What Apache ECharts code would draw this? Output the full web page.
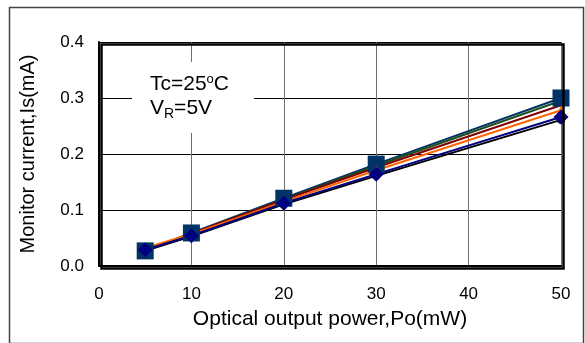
<!DOCTYPE html>
<html>
<head>
<meta charset="utf-8">
<script src="https://cdn.jsdelivr.net/npm/echarts@6/dist/echarts.min.js"></script>
<style>
  html, body { margin: 0; padding: 0; background: #fff; }
  #main { width: 585px; height: 343px; }
</style>
</head>
<body>
<div id="main"></div>
<script>
// optical output power (mW)
const powerPo = [5, 10, 20, 30, 50]
const xTicks = [0, 10, 20, 30, 40, 50]
const yTicks = [0.0, 0.1, 0.2, 0.3, 0.4]

// monitor current Is (mA) for each sample
const isSquare = [0.027, 0.059, 0.121, 0.182, 0.300]
const isGreen = [0.028, 0.058, 0.119, 0.179, 0.295]
const isRed = [0.028, 0.058, 0.118, 0.176, 0.287]
const isOrange = [0.032, 0.057, 0.115, 0.171, 0.278]
const isBlack = [0.027, 0.053, 0.110, 0.161, 0.261]
const isDiamond = [0.029, 0.054, 0.112, 0.164, 0.266]

const chart = echarts.init(document.getElementById('main'))
const font = 'Liberation Sans, Arial, sans-serif'

function pts(vals) {
  return powerPo.map((p, i) => [p, vals[i]])
}

function line(name, vals, color, symbol, size) {
  return {
    name: name,
    type: 'line',
    data: pts(vals),
    symbol: symbol,
    symbolSize: size,
    showSymbol: symbol !== 'none',
    lineStyle: { color: color, width: 2 },
    itemStyle: { color: color, opacity: 1 },
    animation: false
  }
}

const option = {
  backgroundColor: '#fff',
  grid: { left: 99, right: 24, top: 42, bottom: 77 },
  xAxis: {
    type: 'value',
    min: 0,
    max: 50,
    interval: 10,
    name: 'Optical output power,Po(mW)',
    nameLocation: 'middle',
    nameGap: 43,
    nameTextStyle: { color: '#000', fontSize: 21, fontFamily: font },
    axisLine: { show: true, onZero: false, lineStyle: { color: '#000', width: 2 } },
    axisTick: { show: false },
    axisLabel: { color: '#000', fontSize: 17, fontFamily: font, margin: 20 },
    splitLine: { show: true, lineStyle: { color: '#707070', width: 1 } }
  },
  yAxis: {
    type: 'value',
    min: 0,
    max: 0.4,
    interval: 0.1,
    name: 'Monitor current,Is(mA)',
    nameLocation: 'middle',
    nameGap: 61,
    nameTextStyle: { color: '#000', fontSize: 20, fontFamily: font },
    axisLine: { show: true, lineStyle: { color: '#000', width: 2 } },
    axisTick: { show: false },
    axisLabel: {
      color: '#000', fontSize: 17, fontFamily: font, margin: 15,
      formatter: v => v.toFixed(1)
    },
    splitLine: { show: true, lineStyle: { color: '#000', width: 1 } }
  },
  graphic: [
    {
      type: 'rect',
      left: 7, top: 5,
      shape: { width: 574, height: 336 },
      style: { fill: 'none', stroke: '#444', lineWidth: 1.5 },
      z: 0
    },
    {
      // top and right frame of plot area
      type: 'rect',
      left: 99, top: 42,
      shape: { width: 462, height: 224 },
      style: { fill: 'none', stroke: '#000', lineWidth: 2.5 },
      z: 5
    },
    {
      type: 'rect',
      left: 132, top: 62,
      shape: { width: 122, height: 71 },
      style: { fill: '#fff' },
      z: 6
    },
    {
      type: 'text',
      left: 150, top: 73,
      style: {
        text: '{n|Tc=25}{s|o}{n|C}',
        rich: {
          n: { fontSize: 21, fontFamily: font, fill: '#000' },
          s: { fontSize: 13, fontFamily: font, fill: '#000', verticalAlign: 'top', padding: [0, 0, 9, 0] }
        }
      },
      z: 7
    },
    {
      type: 'text',
      left: 150, top: 98,
      style: {
        text: '{n|V}{b|R}{n|=5V}',
        rich: {
          n: { fontSize: 21, fontFamily: font, fill: '#000' },
          b: { fontSize: 14, fontFamily: font, fill: '#000', padding: [11, 0, 0, 0] }
        }
      },
      z: 7
    }
  ],
  series: [
    line('square', isSquare, '#003366', 'rect', 17),
    line('green', isGreen, '#1f4f1f', 'none', 0),
    line('red', isRed, '#800000', 'none', 0),
    line('orange', isOrange, '#ff6600', 'triangle', 9),
    line('black', isBlack, '#000000', 'circle', 8),
    line('diamond', isDiamond, '#000080', 'diamond', 15)
  ]
}

chart.setOption(option)
</script>
</body>
</html>
